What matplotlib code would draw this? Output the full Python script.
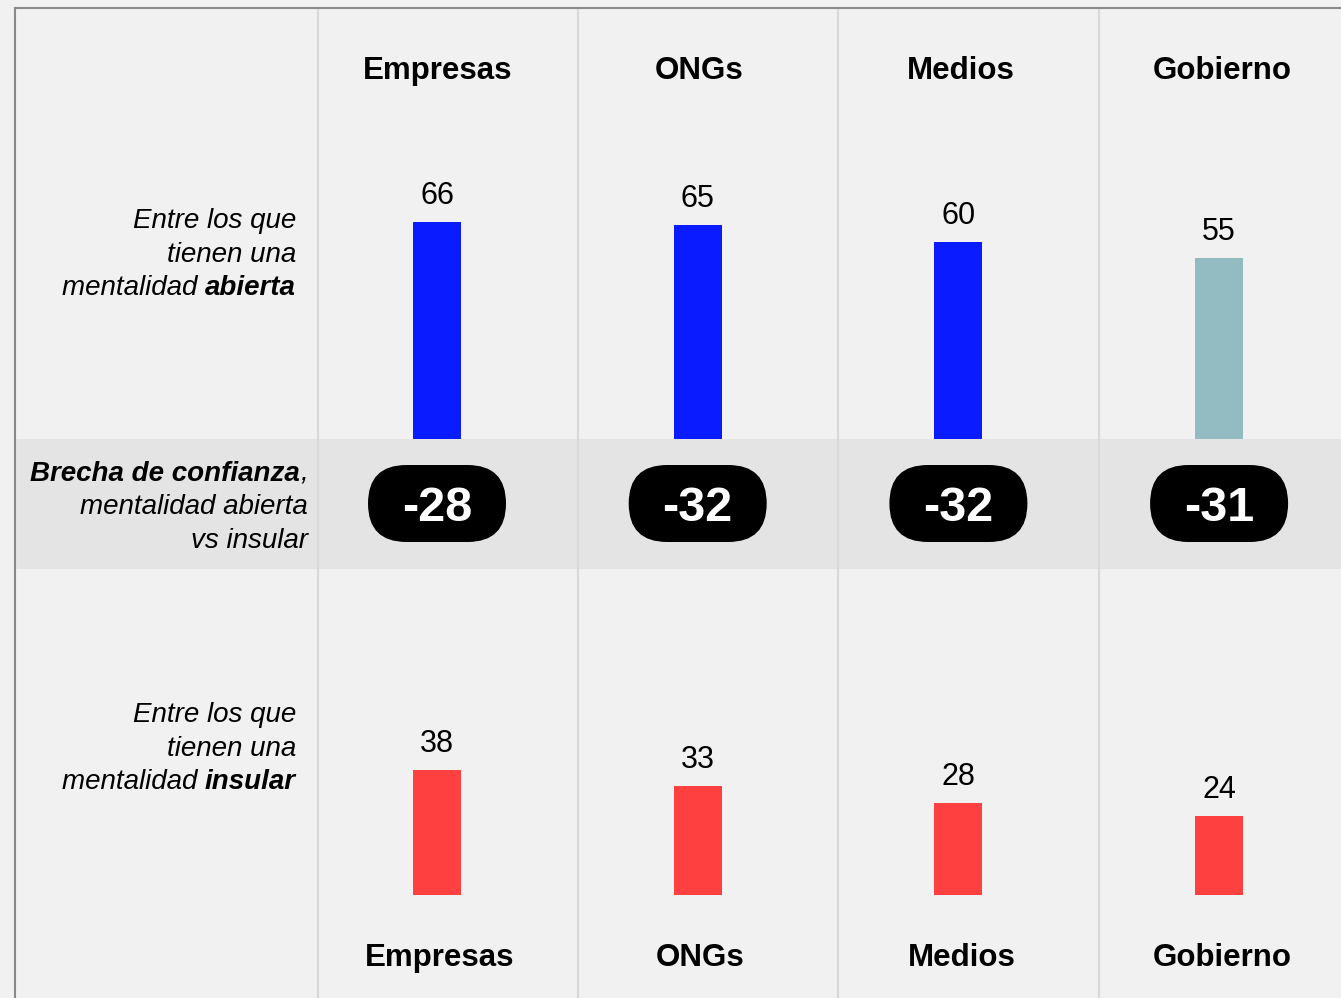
import matplotlib
matplotlib.use('Agg')
import matplotlib.pyplot as plt
from matplotlib.patches import Rectangle, FancyBboxPatch

plt.rcParams['font.family'] = ['Liberation Sans', 'DejaVu Sans']

# --- data ---
categories = ['Empresas', 'ONGs', 'Medios', 'Gobierno']
open_vals = [66, 65, 60, 55]
insular_vals = [38, 33, 28, 24]
gap_vals = [-28, -32, -32, -31]

# --- colours ---
BG = '#f1f1f1'
BAND = '#e4e4e4'
DIVIDER = '#d9d9d9'
BORDER = '#8a8a8a'
BLUE = '#0a1bff'
TEAL = '#93bbc2'
RED = '#ff4040'
open_colors = [BLUE, BLUE, BLUE, TEAL]

# --- layout (pixels) ---
W, H = 1341, 998
X0 = 437.0       # centre of first bar
STEP = 260.7     # distance between bar centres
SCALE = 3.29     # pixels per unit
BAR_W = 48 / STEP

fig = plt.figure(figsize=(W / 100, H / 100), dpi=100, facecolor=BG)
bg = fig.add_axes([0, 0, 1, 1])
bg.set_xlim(0, W)
bg.set_ylim(H, 0)
bg.axis('off')

# grey band for the gap row
bg.add_patch(Rectangle((16, 439), W - 16, 130, facecolor=BAND, edgecolor='none', zorder=0))

# column dividers and outer border
for xd in [318, 578, 838, 1099]:
    bg.plot([xd, xd], [9, H], color=DIVIDER, lw=1.6, zorder=1)
bg.plot([15, 15], [8, H], color=BORDER, lw=1.5, zorder=2, solid_capstyle='projecting')
bg.plot([15, W], [8, 8], color=BORDER, lw=1.5, zorder=2, solid_capstyle='projecting')


def bar_axes(bottom_px, top_px):
    left_px = X0 - 0.5 * STEP
    ax = fig.add_axes([left_px / W, (H - bottom_px) / H,
                       (W - left_px) / W, (bottom_px - top_px) / H])
    ax.set_xlim(-0.5, (W - X0) / STEP)
    ax.set_ylim(0, (bottom_px - top_px) / SCALE)
    ax.axis('off')
    ax.patch.set_alpha(0)
    return ax


x = list(range(len(categories)))

ax_top = bar_axes(439, 100)
bars = ax_top.bar(x, open_vals, width=BAR_W, color=open_colors, zorder=3)
for b, v in zip(bars, open_vals):
    ax_top.annotate(f"{v}", (b.get_x() + b.get_width() / 2, v), xytext=(0, 13),
                    textcoords='offset points', ha='center', va='baseline',
                    fontsize=22, color='black')

ax_bot = bar_axes(895, 600)
bars = ax_bot.bar(x, insular_vals, width=BAR_W, color=RED, zorder=3)
for b, v in zip(bars, insular_vals):
    ax_bot.annotate(f"{v}", (b.get_x() + b.get_width() / 2, v), xytext=(0, 13),
                    textcoords='offset points', ha='center', va='baseline',
                    fontsize=22, color='black')

# column headers, top and bottom
for i, name in enumerate(categories):
    bg.text(437.5 + i * 261.5, 79, name, ha='center', va='baseline',
            fontsize=22.5, fontweight='bold', color='black')
    bg.text(439.5 + i * 261.0, 966, name, ha='center', va='baseline',
            fontsize=22.5, fontweight='bold', color='black')

# gap pills
PILL_W, PILL_H, PILL_CY = 138, 77, 503.5
for i, g in enumerate(gap_vals):
    cx = X0 + i * STEP
    bg.add_patch(FancyBboxPatch((cx - PILL_W / 2, PILL_CY - PILL_H / 2), PILL_W, PILL_H,
                                boxstyle=f"round,pad=0,rounding_size={PILL_H / 2}",
                                facecolor='black', edgecolor='none', zorder=4))
    bg.text(cx, 521, f"{g}", ha='center', va='baseline', fontsize=35,
            fontweight='bold', color='white', zorder=5)

# row labels with mixed styling, right aligned
renderer = fig.canvas.get_renderer()
FS = 20


def rich_line(x_right, y, parts):
    # draw pieces right to left; trailing spaces are kept in the measured width
    xr = x_right
    for txt, weight in reversed(parts):
        t = bg.text(xr, y, txt, ha='right', va='baseline', fontsize=FS,
                    fontstyle='italic', fontweight=weight, color='black')
        xr -= t.get_window_extent(renderer).width


def label_block(x_right, y0, lines):
    for j, parts in enumerate(lines):
        rich_line(x_right, y0 + j * 33.5, parts)


label_block(296, 228, [[('Entre los que', 'normal')],
                       [('tienen una', 'normal')],
                       [('mentalidad ', 'normal'), ('abierta', 'bold')]])
label_block(296, 722, [[('Entre los que', 'normal')],
                       [('tienen una', 'normal')],
                       [('mentalidad ', 'normal'), ('insular', 'bold')]])
label_block(308, 481, [[('Brecha de confianza', 'bold'), (',', 'normal')],
                       [('mentalidad abierta', 'normal')],
                       [('vs insular', 'normal')]])

fig.savefig('out.png', dpi=100, facecolor=BG)
